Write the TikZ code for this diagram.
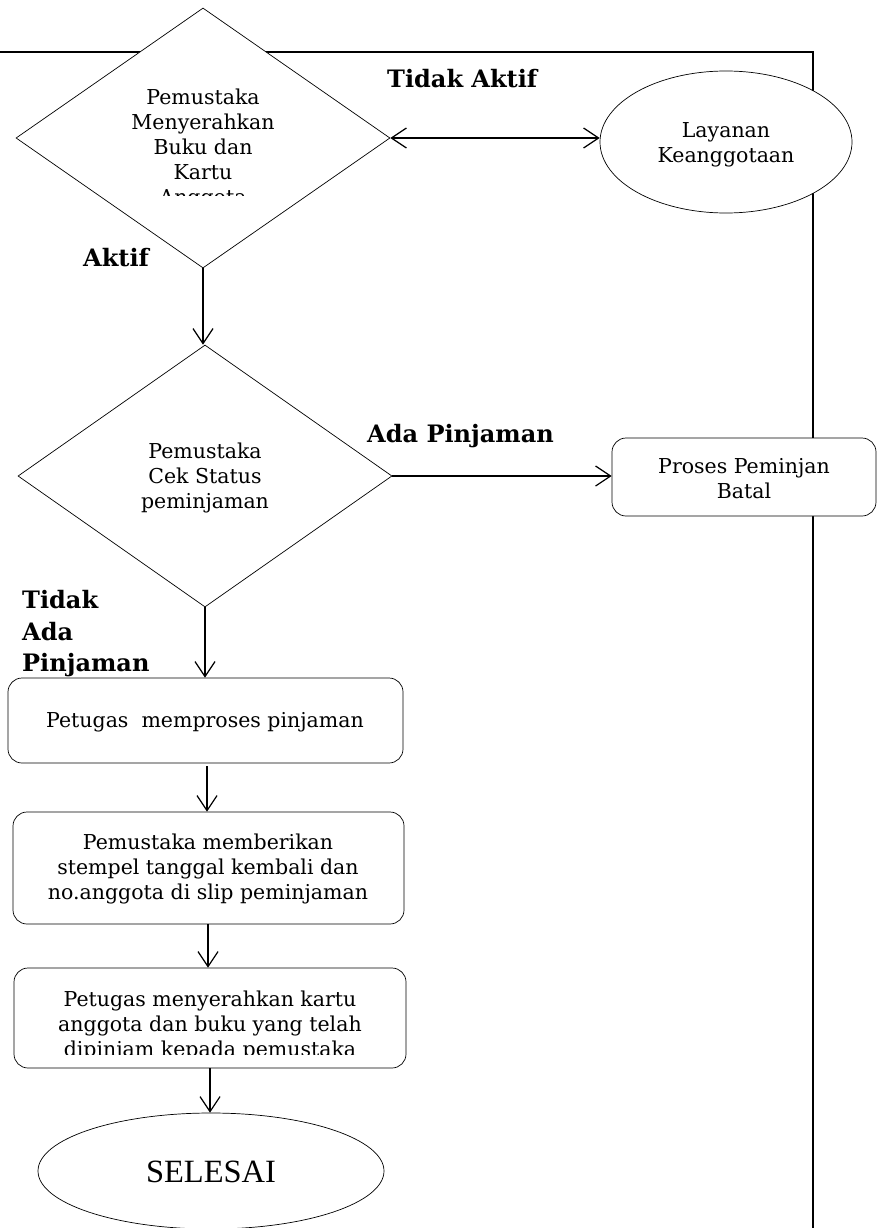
\documentclass[tikz,border=0pt]{standalone}
\usepackage{fontspec}
\setmainfont{DejaVu Serif}
\newfontfamily\timesfont{Liberation Serif}
\usetikzlibrary{shapes.geometric,arrows.meta}

\begin{document}
\begin{tikzpicture}[x=1pt,y=-1pt,
  dia/.style={diamond,draw,fill=white,line width=0.7pt,inner sep=0pt},
  rbox/.style={rectangle,rounded corners=14pt,draw,fill=white,line width=0.7pt,inner sep=0pt},
  oval/.style={ellipse,draw,fill=white,line width=0.7pt,inner sep=0pt},
  txt/.style={align=center,inner sep=0pt,font=\fontsize{20.5}{25}\selectfont},
  lbl/.style={anchor=west,inner sep=0pt,align=left,font=\bfseries\fontsize{24}{31.5}\selectfont},
  flow/.style={line width=1.2pt,-{Straight Barb[length=15pt,width=20pt,line width=1.2pt]}},
  frame/.style={line width=2.2pt}
]
\useasboundingbox (0,0) rectangle (881,1228);

% swimlane border
\draw[frame] (0,52) -- (813,52) -- (813,1230);

% decisions
\node[dia,minimum width=374pt,minimum height=260pt] (d1) at (203,138) {};
\node[dia,minimum width=374pt,minimum height=262pt] (d2) at (205,476) {};

% process boxes and terminals
\node[oval,minimum width=252pt,minimum height=142pt] (lay) at (726,142) {};
\node[txt] (layt) at (726,145) {Layanan\\Keanggotaan};

\node[rbox,minimum width=264pt,minimum height=78pt] (batal) at (744,477) {};
\node[txt] (batalt) at (744,479) {Proses Peminjan\\Batal};

\node[rbox,minimum width=395pt,minimum height=85pt] (b3) at (205.5,720.5) {};
\node[txt] (b3t) at (205,722) {Petugas\ \ memproses pinjaman};

\node[rbox,minimum width=391pt,minimum height=112pt] (b4) at (208.5,868) {};
\node[txt] (b4t) at (208,869) {Pemustaka memberikan\\stempel tanggal kembali dan\\no.anggota di slip peminjaman};

\node[rbox,minimum width=392pt,minimum height=100pt] (b5) at (210,1018) {};

\node[oval,minimum width=346pt,minimum height=116pt] (end) at (211,1171) {};
\node[inner sep=0pt,font=\timesfont\fontsize{32.5}{36}\selectfont] (endt) at (211,1172) {SELESAI};

% texts cut off by their frames
\begin{scope}
  \clip (0,0) rectangle (881,195);
  \node[txt] (d1t) at (203,149) {Pemustaka\\Menyerahkan\\Buku dan\\Kartu\\Anggota};
\end{scope}
\node[txt] (d2t) at (205,478) {Pemustaka\\Cek Status\\peminjaman};
\begin{scope}
  \clip (0,900) rectangle (881,1054);
  \node[txt] (b5t) at (210,1026) {Petugas menyerahkan kartu\\anggota dan buku yang telah\\dipinjam kepada pemustaka};
\end{scope}

% branch labels
\node[lbl] (ltak) at (387,79) {Tidak Aktif};
\node[lbl] (lak) at (83,258) {Aktif};
\node[lbl] (lada) at (367,436) {Ada Pinjaman};
\node[lbl] (ltap) at (22,634) {Tidak\\Ada\\Pinjaman};

% connectors
\draw[flow,{Straight Barb[length=15pt,width=20pt,line width=1.2pt]}-{Straight Barb[length=15pt,width=20pt,line width=1.2pt]}]
  (d1.east) -- (d1.east -| lay.west);
\draw[flow] (d1.south) -- (d1.south |- d2.north);
\draw[flow] (d2.east) -- (d2.east -| batal.west);
\draw[flow] (d2.south) -- (d2.south |- b3.north);
\draw[flow] ([yshift=-3pt]b3.south -| 207,0) -- (207,0 |- b4.north);
\draw[flow] (b4.south -| 208,0) -- (208,0 |- b5.north);
\draw[flow] (b5.south) -- (b5.south |- end.north);
\end{tikzpicture}
\end{document}
